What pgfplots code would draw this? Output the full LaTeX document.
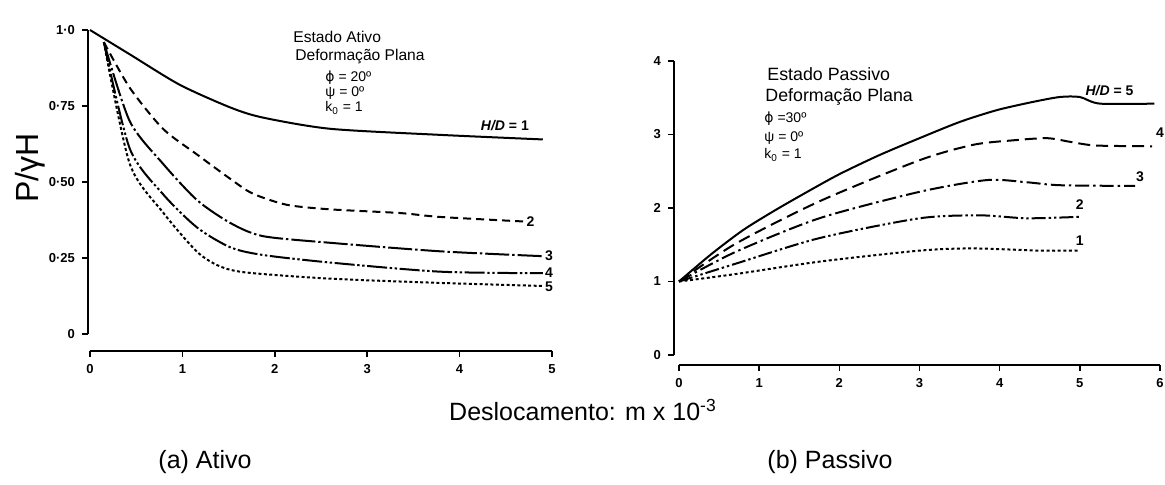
\documentclass[border=0pt]{standalone}
\usepackage{fontspec}
\setmainfont{Liberation Sans}
\newfontfamily\symfont{DejaVu Sans}
\usepackage{pgfplots}
\usepackage{pgfplotstable}
\pgfplotsset{compat=1.18}

% curve data, left panel (active state)
\pgfplotstableread{
x y
0.00 1.000
0.43 0.920
0.97 0.820
1.52 0.745
1.87 0.712
2.60 0.675
3.79 0.655
4.90 0.640
}\atA
\pgfplotstableread{
x y
0.15 0.960
0.43 0.810
0.79 0.675
1.16 0.590
1.52 0.510
1.76 0.462
2.13 0.425
2.60 0.410
3.35 0.398
3.79 0.385
4.70 0.370
}\atB
\pgfplotstableread{
x y
0.15 0.960
0.43 0.700
0.79 0.560
1.16 0.440
1.52 0.365
1.87 0.322
2.60 0.300
3.79 0.272
4.90 0.256
}\atC
\pgfplotstableread{
x y
0.15 0.960
0.43 0.610
0.79 0.460
1.16 0.350
1.52 0.285
1.87 0.260
2.60 0.235
3.79 0.205
4.90 0.200
}\atD
\pgfplotstableread{
x y
0.15 0.960
0.43 0.560
0.79 0.400
1.16 0.270
1.41 0.222
1.70 0.202
2.60 0.182
3.79 0.168
4.90 0.158
}\atE

% curve data, right panel (passive state)
\pgfplotstableread{
x y
0.00 1.00
0.40 1.37
0.80 1.70
1.20 1.97
1.60 2.22
2.00 2.46
2.50 2.72
3.00 2.95
3.50 3.17
3.96 3.33
4.40 3.44
4.75 3.51
5.00 3.51
5.25 3.42
5.93 3.42
}\psE
\pgfplotstableread{
x y
0.00 1.00
0.70 1.51
1.75 2.09
3.00 2.65
3.67 2.86
4.16 2.92
4.59 2.95
4.88 2.90
5.20 2.85
5.90 2.84
}\psD
\pgfplotstableread{
x y
0.00 1.00
0.70 1.40
1.75 1.86
3.00 2.22
3.84 2.38
4.34 2.35
4.75 2.31
5.69 2.30
}\psC
\pgfplotstableread{
x y
0.00 1.00
0.70 1.24
1.75 1.59
3.00 1.86
3.75 1.90
4.34 1.86
5.00 1.88
}\psB
\pgfplotstableread{
x y
0.00 1.00
0.70 1.10
1.75 1.27
3.00 1.42
3.67 1.45
4.50 1.42
5.00 1.42
}\psA

\pgfplotsset{
  panel/.style={
    scale only axis, clip=false,
    axis lines=left,
    axis line style={-, line width=0.9pt},
    tick style={line width=0.8pt, black},
    tick align=outside, major tick length=3pt,
    ticklabel style={font=\fontsize{6.5}{7}\selectfont\bfseries},
    every axis plot/.append style={line width=1pt, black, smooth, tension=0.45, no markers},
  },
}
\tikzset{lbl/.style={font=\fontsize{7}{8}\selectfont\bfseries, inner sep=0pt}}

\begin{document}
\begin{tikzpicture}
\useasboundingbox (0,0) rectangle (582.5pt,-242.5pt);

% (a) active state
\begin{axis}[panel,
  at={(45pt,-167pt)}, anchor=south west,
  width=231pt, height=152pt,
  xmin=0, xmax=5, ymin=0, ymax=1,
  xtick={0,1,2,3,4,5}, xticklabels={0,1,2,3,4,5},
  ytick={0,0.25,0.5,0.75,1}, yticklabels={0,0·25,0·50,0·75,1·0},
  axis x line shift=8.5pt, axis y line shift=1pt]
\addplot[solid] table {\atA};
\addplot[dash pattern=on 4pt off 2.5pt] table {\atB};
\addplot[dash pattern=on 12pt off 1.5pt on 1.2pt off 1.5pt] table {\atC};
\addplot[dash pattern=on 10pt off 1.3pt on 1.2pt off 1.3pt on 1.2pt off 1.3pt] table {\atD};
\addplot[dash pattern=on 1.5pt off 1.2pt] table {\atE};
\node[lbl] at (axis cs:4.49,0.685) {\itshape H/D\upshape\ = 1};
\node[lbl, anchor=west] at (axis cs:4.72,0.37) {2};
\node[lbl, anchor=west] at (axis cs:4.92,0.256) {3};
\node[lbl, anchor=west] at (axis cs:4.92,0.202) {4};
\node[lbl, anchor=west] at (axis cs:4.92,0.156) {5};
\end{axis}

% (b) passive state
\begin{axis}[panel,
  at={(339.5pt,-177.5pt)}, anchor=south west,
  width=240.5pt, height=147pt,
  xmin=0, xmax=6, ymin=0, ymax=4,
  xtick={0,1,2,3,4,5,6}, xticklabels={0,1,2,3,4,5,6},
  ytick={0,1,2,3,4}, yticklabels={0,1,2,3,4},
  axis x line shift=5pt, axis y line shift=2.5pt]
\addplot[solid] table {\psE};
\addplot[dash pattern=on 6pt off 3pt] table {\psD};
\addplot[dash pattern=on 7pt off 2pt on 1.2pt off 2pt] table {\psC};
\addplot[dash pattern=on 7pt off 1.5pt on 1.2pt off 1.5pt on 1.2pt off 1.5pt] table {\psB};
\addplot[dash pattern=on 1.5pt off 1.3pt] table {\psA};
\node[lbl] at (axis cs:5.37,3.60) {\itshape H/D\upshape\ = 5};
\node[lbl] at (axis cs:6.0,3.02) {4};
\node[lbl] at (axis cs:5.75,2.42) {3};
\node[lbl] at (axis cs:5.0,2.04) {2};
\node[lbl] at (axis cs:5.0,1.56) {1};
\end{axis}

\begin{scope}[x=0.5pt, y=-0.5pt]
% annotations, left panel
\node[anchor=base west, inner sep=0pt, font=\fontsize{7.8}{9}\selectfont] at (293,43) {Estado Ativo};
\node[anchor=base west, inner sep=0pt, font=\fontsize{7.8}{9}\selectfont] at (295,61) {Deformação Plana};
\node[anchor=base west, inner sep=0pt, font=\fontsize{7}{8}\selectfont] at (325,82) {{\symfont ϕ} = 20º};
\node[anchor=base west, inner sep=0pt, font=\fontsize{7}{8}\selectfont] at (325,97) {ψ = 0º};
\node[anchor=base west, inner sep=0pt, font=\fontsize{7}{8}\selectfont] at (325,112) {k\textsubscript{0} = 1};
% annotations, right panel
\node[anchor=base west, inner sep=0pt, font=\fontsize{8.9}{10}\selectfont] at (767,81) {Estado Passivo};
\node[anchor=base west, inner sep=0pt, font=\fontsize{8.9}{10}\selectfont] at (765,102) {Deformação Plana};
\node[anchor=base west, inner sep=0pt, font=\fontsize{7}{8}\selectfont] at (764,123) {{\symfont ϕ} =30º};
\node[anchor=base west, inner sep=0pt, font=\fontsize{7}{8}\selectfont] at (764,142) {ψ = 0º};
\node[anchor=base west, inner sep=0pt, font=\fontsize{7}{8}\selectfont] at (764,159) {k\textsubscript{0} = 1};
% shared labels and captions
\node[rotate=90, inner sep=0pt, font=\fontsize{16}{18}\selectfont] at (30,168) {P/γH};
\node[inner sep=0pt, font=\fontsize{12.5}{15}\selectfont] at (583,410) {Deslocamento: m x 10\textsuperscript{-3}};
\node[inner sep=0pt, font=\fontsize{12.5}{15}\selectfont] at (205,462) {(a) Ativo};
\node[inner sep=0pt, font=\fontsize{12.5}{15}\selectfont] at (830,462) {(b) Passivo};
\end{scope}
\end{tikzpicture}
\end{document}
